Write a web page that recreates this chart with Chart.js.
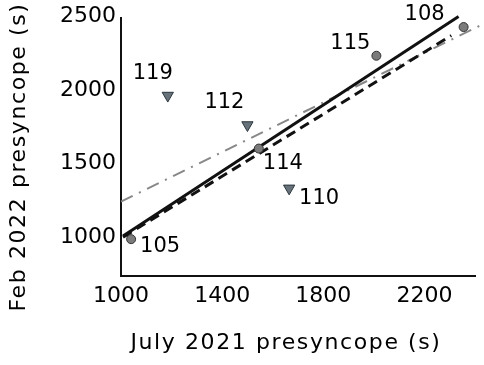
<!DOCTYPE html>
<html>
<head>
<meta charset="utf-8">
<script src="https://cdn.jsdelivr.net/npm/chart.js@4"></script>
<style>
  html, body { margin: 0; padding: 0; background: #fff; }
  #wrap { width: 484px; height: 365px; }
</style>
</head>
<body>
<div id="wrap"><canvas id="chart"></canvas></div>
<script>
// participants shown as circles
var circleIds = ['105', '114', '115', '108'];
var circleX = [1040, 1545, 2010, 2355];
var circleY = [1000, 1615, 2245, 2440];

// participants shown as triangles
var triIds = ['119', '112', '110'];
var triX = [1185, 1500, 1665];
var triY = [1975, 1775, 1345];

// fit lines (end points)
var solidX = [1008, 2335];
var solidY = [1021, 2511];
var dashX = [1008, 2306];
var dashY = [1014, 2382];
var dotDashX = [1000, 2418];
var dotDashY = [1255, 2448];

// tick labels
var xTicks = [1000, 1400, 1800, 2200];
var yTicks = [1000, 1500, 2000, 2500];

// where each id label sits relative to its marker
var circleLabelOff = [[29, 7], [24, 15], [-26, -12], [-39, -12]];
var triLabelOff = [[-15, -22], [-23, -22], [30, 10]];

function pts(xs, ys) {
    return xs.map(function (x, i) { return { x: x, y: ys[i] }; });
}

var FONT = 'DejaVu Sans';

var labelPlugin = {
    id: 'idLabels',
    afterDatasetsDraw: function (chart) {
        var ctx = chart.ctx;
        var xs = chart.scales.x, ys = chart.scales.y;
        ctx.save();
        ctx.fillStyle = '#000';
        ctx.font = '21px "' + FONT + '"';
        ctx.textAlign = 'center';
        ctx.textBaseline = 'middle';
        circleIds.forEach(function (id, i) {
            ctx.fillText(id, xs.getPixelForValue(circleX[i]) + circleLabelOff[i][0],
                ys.getPixelForValue(circleY[i]) + circleLabelOff[i][1]);
        });
        triIds.forEach(function (id, i) {
            ctx.fillText(id, xs.getPixelForValue(triX[i]) + triLabelOff[i][0],
                ys.getPixelForValue(triY[i]) + triLabelOff[i][1]);
        });
        ctx.restore();
    }
};

var titlePlugin = {
    id: 'axisTitles',
    afterDraw: function (chart) {
        var ctx = chart.ctx;
        ctx.save();
        ctx.fillStyle = '#000';
        ctx.font = '22px "' + FONT + '"';
        ctx.letterSpacing = '1.6px';
        ctx.textAlign = 'center';
        ctx.textBaseline = 'middle';
        ctx.fillText('July 2021 presyncope (s)', 286, 343);
        ctx.translate(19, 157);
        ctx.rotate(-Math.PI / 2);
        ctx.fillText('Feb 2022 presyncope (s)', 0, 0);
        ctx.restore();
    }
};

var ctx = document.getElementById('chart').getContext('2d');
var chart = new Chart(ctx, {
    type: 'scatter',
    data: {
        datasets: [{
            data: pts(circleX, circleY),
            pointStyle: 'circle',
            pointRadius: 4.5,
            backgroundColor: '#7b7b7b',
            borderColor: '#333',
            borderWidth: 1
        }, {
            data: pts(triX, triY),
            pointStyle: 'triangle',
            rotation: 180,
            pointRadius: 6.5,
            backgroundColor: '#67727a',
            borderColor: '#2a363d',
            borderWidth: 1
        }, {
            data: pts(solidX, solidY),
            showLine: true,
            pointRadius: 0,
            borderColor: '#111',
            borderWidth: 3,
            clip: false
        }, {
            data: pts(dashX, dashY),
            showLine: true,
            pointRadius: 0,
            borderColor: '#111',
            borderWidth: 3,
            borderDash: [10, 6],
            clip: false
        }, {
            data: pts(dotDashX, dotDashY),
            showLine: true,
            pointRadius: 0,
            borderColor: '#888',
            borderWidth: 2,
            borderDash: [13, 7, 2, 7],
            clip: false
        }]
    },
    options: {
        responsive: true,
        maintainAspectRatio: false,
        animation: false,
        layout: { padding: { top: 14, right: 9, left: 0, bottom: 0 } },
        plugins: {
            legend: { display: false },
            tooltip: { enabled: false }
        },
        scales: {
            x: {
                type: 'linear',
                min: 1000,
                max: 2400,
                grid: { display: false, drawTicks: false },
                border: { display: true, color: '#111', width: 2 },
                ticks: {
                    color: '#000', padding: 7, font: { family: FONT, size: 22 },
                    callback: function (v) { return String(v); }
                },
                afterBuildTicks: function (s) {
                    s.ticks = xTicks.map(function (v) { return { value: v }; });
                },
                afterFit: function (s) { s.height = 89; }
            },
            y: {
                type: 'linear',
                min: 750,
                max: 2500,
                grid: { display: false, drawTicks: false },
                border: { display: true, color: '#111', width: 2 },
                ticks: {
                    color: '#000', padding: 5, labelOffset: -2, font: { family: FONT, size: 22 },
                    callback: function (v) { return String(v); }
                },
                afterBuildTicks: function (s) {
                    s.ticks = yTicks.map(function (v) { return { value: v }; });
                },
                afterFit: function (s) { s.width = 121; }
            }
        }
    },
    plugins: [labelPlugin, titlePlugin]
});
</script>
</body>
</html>
